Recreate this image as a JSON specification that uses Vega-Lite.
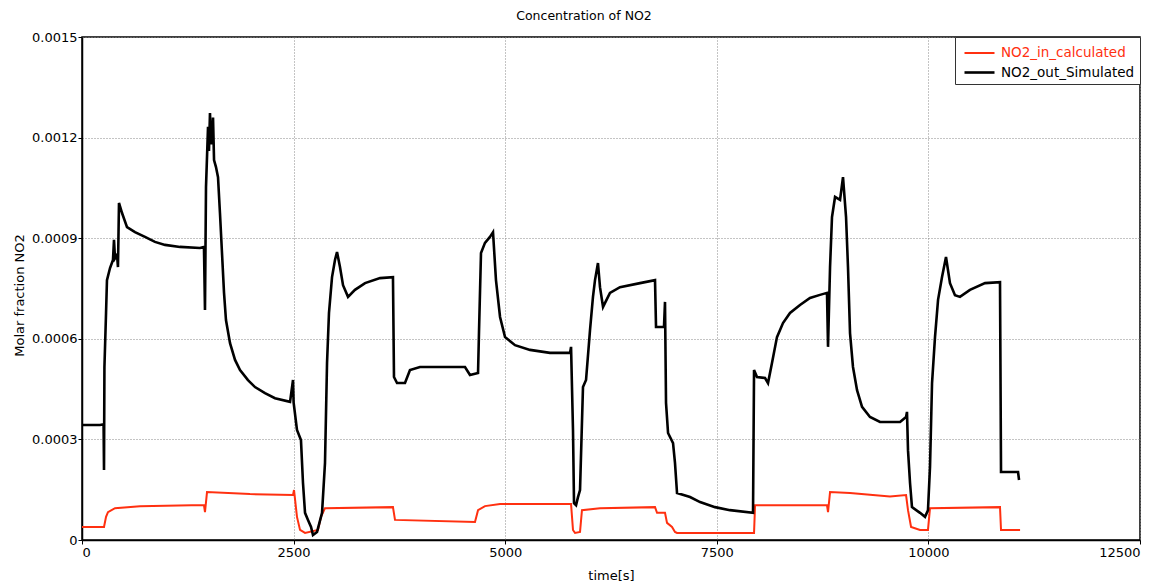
{
  "$schema": "https://vega.github.io/schema/vega-lite/v6.json",
  "width": 1058,
  "height": 503,
  "autosize": {"type": "none"},
  "padding": {"left": 82, "top": 37, "right": 28, "bottom": 42},
  "background": "white",
  "title": {
    "text": "Concentration of NO2",
    "font": "DejaVu Sans",
    "fontSize": 12.5,
    "fontWeight": "normal",
    "color": "#000",
    "anchor": "middle",
    "baseline": "middle",
    "offset": 3,
    "dx": -27
  },
  "config": {
    "font": "DejaVu Sans",
    "view": {"stroke": "#000", "strokeWidth": 1.5},
    "axis": {
      "labelFont": "DejaVu Sans",
      "labelFontSize": 13,
      "labelColor": "#000",
      "titleFont": "DejaVu Sans",
      "titleFontSize": 13,
      "titleFontWeight": "normal",
      "titleColor": "#000",
      "domainColor": "#000",
      "domainWidth": 1.5,
      "tickColor": "#000",
      "tickSize": 4,
      "tickWidth": 1,
      "gridColor": "#888",
      "gridDash": [1, 2],
      "gridWidth": 1
    }
  },
  "data": {
    "values": [
      {"t": 0, "v": 0.000039, "s": "NO2_in_calculated"},
      {"t": 260, "v": 0.000039, "s": "NO2_in_calculated"},
      {"t": 284, "v": 0.000069, "s": "NO2_in_calculated"},
      {"t": 307, "v": 0.000083, "s": "NO2_in_calculated"},
      {"t": 390, "v": 0.000095, "s": "NO2_in_calculated"},
      {"t": 685, "v": 0.000101, "s": "NO2_in_calculated"},
      {"t": 1441, "v": 0.000104, "s": "NO2_in_calculated"},
      {"t": 1453, "v": 0.000083, "s": "NO2_in_calculated"},
      {"t": 1477, "v": 0.000143, "s": "NO2_in_calculated"},
      {"t": 1985, "v": 0.000137, "s": "NO2_in_calculated"},
      {"t": 2493, "v": 0.000134, "s": "NO2_in_calculated"},
      {"t": 2505, "v": 0.000149, "s": "NO2_in_calculated"},
      {"t": 2540, "v": 0.000069, "s": "NO2_in_calculated"},
      {"t": 2576, "v": 0.000030, "s": "NO2_in_calculated"},
      {"t": 2635, "v": 0.000021, "s": "NO2_in_calculated"},
      {"t": 2788, "v": 0.000030, "s": "NO2_in_calculated"},
      {"t": 2824, "v": 0.000069, "s": "NO2_in_calculated"},
      {"t": 2871, "v": 0.000095, "s": "NO2_in_calculated"},
      {"t": 3674, "v": 0.000098, "s": "NO2_in_calculated"},
      {"t": 3698, "v": 0.000060, "s": "NO2_in_calculated"},
      {"t": 4643, "v": 0.000054, "s": "NO2_in_calculated"},
      {"t": 4679, "v": 0.000089, "s": "NO2_in_calculated"},
      {"t": 4761, "v": 0.000101, "s": "NO2_in_calculated"},
      {"t": 4939, "v": 0.000107, "s": "NO2_in_calculated"},
      {"t": 5778, "v": 0.000107, "s": "NO2_in_calculated"},
      {"t": 5801, "v": 0.000030, "s": "NO2_in_calculated"},
      {"t": 5825, "v": 0.000021, "s": "NO2_in_calculated"},
      {"t": 5884, "v": 0.000024, "s": "NO2_in_calculated"},
      {"t": 5907, "v": 0.000089, "s": "NO2_in_calculated"},
      {"t": 6120, "v": 0.000095, "s": "NO2_in_calculated"},
      {"t": 6770, "v": 0.000098, "s": "NO2_in_calculated"},
      {"t": 6794, "v": 0.000081, "s": "NO2_in_calculated"},
      {"t": 6888, "v": 0.000081, "s": "NO2_in_calculated"},
      {"t": 6912, "v": 0.000051, "s": "NO2_in_calculated"},
      {"t": 6971, "v": 0.000039, "s": "NO2_in_calculated"},
      {"t": 7006, "v": 0.000024, "s": "NO2_in_calculated"},
      {"t": 7030, "v": 0.000021, "s": "NO2_in_calculated"},
      {"t": 7940, "v": 0.000021, "s": "NO2_in_calculated"},
      {"t": 7952, "v": 0.000104, "s": "NO2_in_calculated"},
      {"t": 8802, "v": 0.000104, "s": "NO2_in_calculated"},
      {"t": 8814, "v": 0.000083, "s": "NO2_in_calculated"},
      {"t": 8838, "v": 0.000143, "s": "NO2_in_calculated"},
      {"t": 9074, "v": 0.000140, "s": "NO2_in_calculated"},
      {"t": 9546, "v": 0.000130, "s": "NO2_in_calculated"},
      {"t": 9736, "v": 0.000134, "s": "NO2_in_calculated"},
      {"t": 9759, "v": 0.000089, "s": "NO2_in_calculated"},
      {"t": 9795, "v": 0.000039, "s": "NO2_in_calculated"},
      {"t": 9901, "v": 0.000030, "s": "NO2_in_calculated"},
      {"t": 9995, "v": 0.000030, "s": "NO2_in_calculated"},
      {"t": 10019, "v": 0.000095, "s": "NO2_in_calculated"},
      {"t": 10846, "v": 0.000098, "s": "NO2_in_calculated"},
      {"t": 10858, "v": 0.000030, "s": "NO2_in_calculated"},
      {"t": 11083, "v": 0.000030, "s": "NO2_in_calculated"},

      {"t": 0, "v": 0.000343, "s": "NO2_out_Simulated"},
      {"t": 213, "v": 0.000343, "s": "NO2_out_Simulated"},
      {"t": 255, "v": 0.000345, "s": "NO2_out_Simulated"},
      {"t": 260, "v": 0.000209, "s": "NO2_out_Simulated"},
      {"t": 265, "v": 0.000516, "s": "NO2_out_Simulated"},
      {"t": 284, "v": 0.000677, "s": "NO2_out_Simulated"},
      {"t": 295, "v": 0.000775, "s": "NO2_out_Simulated"},
      {"t": 331, "v": 0.000811, "s": "NO2_out_Simulated"},
      {"t": 366, "v": 0.000835, "s": "NO2_out_Simulated"},
      {"t": 378, "v": 0.000895, "s": "NO2_out_Simulated"},
      {"t": 390, "v": 0.000840, "s": "NO2_out_Simulated"},
      {"t": 414, "v": 0.000850, "s": "NO2_out_Simulated"},
      {"t": 425, "v": 0.000814, "s": "NO2_out_Simulated"},
      {"t": 437, "v": 0.001005, "s": "NO2_out_Simulated"},
      {"t": 473, "v": 0.000975, "s": "NO2_out_Simulated"},
      {"t": 532, "v": 0.000933, "s": "NO2_out_Simulated"},
      {"t": 626, "v": 0.000918, "s": "NO2_out_Simulated"},
      {"t": 744, "v": 0.000904, "s": "NO2_out_Simulated"},
      {"t": 862, "v": 0.000889, "s": "NO2_out_Simulated"},
      {"t": 981, "v": 0.000880, "s": "NO2_out_Simulated"},
      {"t": 1158, "v": 0.000874, "s": "NO2_out_Simulated"},
      {"t": 1394, "v": 0.000871, "s": "NO2_out_Simulated"},
      {"t": 1441, "v": 0.000874, "s": "NO2_out_Simulated"},
      {"t": 1453, "v": 0.000686, "s": "NO2_out_Simulated"},
      {"t": 1465, "v": 0.001053, "s": "NO2_out_Simulated"},
      {"t": 1489, "v": 0.001232, "s": "NO2_out_Simulated"},
      {"t": 1500, "v": 0.001160, "s": "NO2_out_Simulated"},
      {"t": 1512, "v": 0.001273, "s": "NO2_out_Simulated"},
      {"t": 1525, "v": 0.001180, "s": "NO2_out_Simulated"},
      {"t": 1536, "v": 0.001193, "s": "NO2_out_Simulated"},
      {"t": 1548, "v": 0.001260, "s": "NO2_out_Simulated"},
      {"t": 1560, "v": 0.001133, "s": "NO2_out_Simulated"},
      {"t": 1583, "v": 0.001112, "s": "NO2_out_Simulated"},
      {"t": 1607, "v": 0.001082, "s": "NO2_out_Simulated"},
      {"t": 1630, "v": 0.000975, "s": "NO2_out_Simulated"},
      {"t": 1654, "v": 0.000856, "s": "NO2_out_Simulated"},
      {"t": 1678, "v": 0.000737, "s": "NO2_out_Simulated"},
      {"t": 1701, "v": 0.000656, "s": "NO2_out_Simulated"},
      {"t": 1749, "v": 0.000587, "s": "NO2_out_Simulated"},
      {"t": 1808, "v": 0.000537, "s": "NO2_out_Simulated"},
      {"t": 1867, "v": 0.000507, "s": "NO2_out_Simulated"},
      {"t": 1961, "v": 0.000477, "s": "NO2_out_Simulated"},
      {"t": 2044, "v": 0.000456, "s": "NO2_out_Simulated"},
      {"t": 2162, "v": 0.000438, "s": "NO2_out_Simulated"},
      {"t": 2280, "v": 0.000423, "s": "NO2_out_Simulated"},
      {"t": 2458, "v": 0.000412, "s": "NO2_out_Simulated"},
      {"t": 2493, "v": 0.000477, "s": "NO2_out_Simulated"},
      {"t": 2500, "v": 0.000410, "s": "NO2_out_Simulated"},
      {"t": 2540, "v": 0.000328, "s": "NO2_out_Simulated"},
      {"t": 2587, "v": 0.000298, "s": "NO2_out_Simulated"},
      {"t": 2611, "v": 0.000170, "s": "NO2_out_Simulated"},
      {"t": 2635, "v": 0.000081, "s": "NO2_out_Simulated"},
      {"t": 2670, "v": 0.000060, "s": "NO2_out_Simulated"},
      {"t": 2706, "v": 0.000039, "s": "NO2_out_Simulated"},
      {"t": 2729, "v": 0.000015, "s": "NO2_out_Simulated"},
      {"t": 2777, "v": 0.000024, "s": "NO2_out_Simulated"},
      {"t": 2836, "v": 0.000081, "s": "NO2_out_Simulated"},
      {"t": 2871, "v": 0.000230, "s": "NO2_out_Simulated"},
      {"t": 2895, "v": 0.000528, "s": "NO2_out_Simulated"},
      {"t": 2918, "v": 0.000677, "s": "NO2_out_Simulated"},
      {"t": 2954, "v": 0.000784, "s": "NO2_out_Simulated"},
      {"t": 2989, "v": 0.000835, "s": "NO2_out_Simulated"},
      {"t": 3013, "v": 0.000859, "s": "NO2_out_Simulated"},
      {"t": 3048, "v": 0.000814, "s": "NO2_out_Simulated"},
      {"t": 3084, "v": 0.000760, "s": "NO2_out_Simulated"},
      {"t": 3143, "v": 0.000725, "s": "NO2_out_Simulated"},
      {"t": 3225, "v": 0.000746, "s": "NO2_out_Simulated"},
      {"t": 3344, "v": 0.000766, "s": "NO2_out_Simulated"},
      {"t": 3521, "v": 0.000781, "s": "NO2_out_Simulated"},
      {"t": 3674, "v": 0.000784, "s": "NO2_out_Simulated"},
      {"t": 3686, "v": 0.000486, "s": "NO2_out_Simulated"},
      {"t": 3722, "v": 0.000468, "s": "NO2_out_Simulated"},
      {"t": 3816, "v": 0.000468, "s": "NO2_out_Simulated"},
      {"t": 3875, "v": 0.000507, "s": "NO2_out_Simulated"},
      {"t": 3993, "v": 0.000516, "s": "NO2_out_Simulated"},
      {"t": 4230, "v": 0.000516, "s": "NO2_out_Simulated"},
      {"t": 4525, "v": 0.000516, "s": "NO2_out_Simulated"},
      {"t": 4584, "v": 0.000492, "s": "NO2_out_Simulated"},
      {"t": 4679, "v": 0.000498, "s": "NO2_out_Simulated"},
      {"t": 4691, "v": 0.000626, "s": "NO2_out_Simulated"},
      {"t": 4714, "v": 0.000856, "s": "NO2_out_Simulated"},
      {"t": 4761, "v": 0.000886, "s": "NO2_out_Simulated"},
      {"t": 4820, "v": 0.000904, "s": "NO2_out_Simulated"},
      {"t": 4856, "v": 0.000918, "s": "NO2_out_Simulated"},
      {"t": 4891, "v": 0.000775, "s": "NO2_out_Simulated"},
      {"t": 4939, "v": 0.000665, "s": "NO2_out_Simulated"},
      {"t": 4998, "v": 0.000605, "s": "NO2_out_Simulated"},
      {"t": 5116, "v": 0.000581, "s": "NO2_out_Simulated"},
      {"t": 5293, "v": 0.000567, "s": "NO2_out_Simulated"},
      {"t": 5529, "v": 0.000558, "s": "NO2_out_Simulated"},
      {"t": 5766, "v": 0.000558, "s": "NO2_out_Simulated"},
      {"t": 5778, "v": 0.000576, "s": "NO2_out_Simulated"},
      {"t": 5801, "v": 0.000328, "s": "NO2_out_Simulated"},
      {"t": 5813, "v": 0.000110, "s": "NO2_out_Simulated"},
      {"t": 5837, "v": 0.000104, "s": "NO2_out_Simulated"},
      {"t": 5860, "v": 0.000128, "s": "NO2_out_Simulated"},
      {"t": 5884, "v": 0.000149, "s": "NO2_out_Simulated"},
      {"t": 5919, "v": 0.000456, "s": "NO2_out_Simulated"},
      {"t": 5955, "v": 0.000477, "s": "NO2_out_Simulated"},
      {"t": 6002, "v": 0.000626, "s": "NO2_out_Simulated"},
      {"t": 6037, "v": 0.000725, "s": "NO2_out_Simulated"},
      {"t": 6061, "v": 0.000775, "s": "NO2_out_Simulated"},
      {"t": 6096, "v": 0.000826, "s": "NO2_out_Simulated"},
      {"t": 6120, "v": 0.000754, "s": "NO2_out_Simulated"},
      {"t": 6156, "v": 0.000695, "s": "NO2_out_Simulated"},
      {"t": 6238, "v": 0.000737, "s": "NO2_out_Simulated"},
      {"t": 6356, "v": 0.000754, "s": "NO2_out_Simulated"},
      {"t": 6593, "v": 0.000766, "s": "NO2_out_Simulated"},
      {"t": 6770, "v": 0.000775, "s": "NO2_out_Simulated"},
      {"t": 6782, "v": 0.000635, "s": "NO2_out_Simulated"},
      {"t": 6876, "v": 0.000635, "s": "NO2_out_Simulated"},
      {"t": 6888, "v": 0.000710, "s": "NO2_out_Simulated"},
      {"t": 6900, "v": 0.000409, "s": "NO2_out_Simulated"},
      {"t": 6924, "v": 0.000319, "s": "NO2_out_Simulated"},
      {"t": 6983, "v": 0.000289, "s": "NO2_out_Simulated"},
      {"t": 7006, "v": 0.000230, "s": "NO2_out_Simulated"},
      {"t": 7030, "v": 0.000140, "s": "NO2_out_Simulated"},
      {"t": 7184, "v": 0.000128, "s": "NO2_out_Simulated"},
      {"t": 7302, "v": 0.000113, "s": "NO2_out_Simulated"},
      {"t": 7479, "v": 0.000098, "s": "NO2_out_Simulated"},
      {"t": 7656, "v": 0.000089, "s": "NO2_out_Simulated"},
      {"t": 7928, "v": 0.000081, "s": "NO2_out_Simulated"},
      {"t": 7940, "v": 0.000507, "s": "NO2_out_Simulated"},
      {"t": 7975, "v": 0.000486, "s": "NO2_out_Simulated"},
      {"t": 8070, "v": 0.000483, "s": "NO2_out_Simulated"},
      {"t": 8105, "v": 0.000468, "s": "NO2_out_Simulated"},
      {"t": 8152, "v": 0.000528, "s": "NO2_out_Simulated"},
      {"t": 8211, "v": 0.000605, "s": "NO2_out_Simulated"},
      {"t": 8282, "v": 0.000647, "s": "NO2_out_Simulated"},
      {"t": 8365, "v": 0.000677, "s": "NO2_out_Simulated"},
      {"t": 8483, "v": 0.000701, "s": "NO2_out_Simulated"},
      {"t": 8601, "v": 0.000722, "s": "NO2_out_Simulated"},
      {"t": 8719, "v": 0.000731, "s": "NO2_out_Simulated"},
      {"t": 8802, "v": 0.000737, "s": "NO2_out_Simulated"},
      {"t": 8814, "v": 0.000576, "s": "NO2_out_Simulated"},
      {"t": 8838, "v": 0.000814, "s": "NO2_out_Simulated"},
      {"t": 8861, "v": 0.000963, "s": "NO2_out_Simulated"},
      {"t": 8897, "v": 0.001023, "s": "NO2_out_Simulated"},
      {"t": 8956, "v": 0.001014, "s": "NO2_out_Simulated"},
      {"t": 8991, "v": 0.001082, "s": "NO2_out_Simulated"},
      {"t": 9027, "v": 0.000963, "s": "NO2_out_Simulated"},
      {"t": 9050, "v": 0.000814, "s": "NO2_out_Simulated"},
      {"t": 9074, "v": 0.000617, "s": "NO2_out_Simulated"},
      {"t": 9109, "v": 0.000516, "s": "NO2_out_Simulated"},
      {"t": 9157, "v": 0.000447, "s": "NO2_out_Simulated"},
      {"t": 9216, "v": 0.000397, "s": "NO2_out_Simulated"},
      {"t": 9310, "v": 0.000367, "s": "NO2_out_Simulated"},
      {"t": 9428, "v": 0.000352, "s": "NO2_out_Simulated"},
      {"t": 9665, "v": 0.000352, "s": "NO2_out_Simulated"},
      {"t": 9736, "v": 0.000367, "s": "NO2_out_Simulated"},
      {"t": 9747, "v": 0.000382, "s": "NO2_out_Simulated"},
      {"t": 9759, "v": 0.000268, "s": "NO2_out_Simulated"},
      {"t": 9783, "v": 0.000170, "s": "NO2_out_Simulated"},
      {"t": 9806, "v": 0.000098, "s": "NO2_out_Simulated"},
      {"t": 9901, "v": 0.000081, "s": "NO2_out_Simulated"},
      {"t": 9960, "v": 0.000069, "s": "NO2_out_Simulated"},
      {"t": 9995, "v": 0.000089, "s": "NO2_out_Simulated"},
      {"t": 10019, "v": 0.000218, "s": "NO2_out_Simulated"},
      {"t": 10043, "v": 0.000468, "s": "NO2_out_Simulated"},
      {"t": 10078, "v": 0.000605, "s": "NO2_out_Simulated"},
      {"t": 10114, "v": 0.000716, "s": "NO2_out_Simulated"},
      {"t": 10161, "v": 0.000784, "s": "NO2_out_Simulated"},
      {"t": 10208, "v": 0.000844, "s": "NO2_out_Simulated"},
      {"t": 10255, "v": 0.000766, "s": "NO2_out_Simulated"},
      {"t": 10314, "v": 0.000730, "s": "NO2_out_Simulated"},
      {"t": 10373, "v": 0.000725, "s": "NO2_out_Simulated"},
      {"t": 10491, "v": 0.000746, "s": "NO2_out_Simulated"},
      {"t": 10669, "v": 0.000766, "s": "NO2_out_Simulated"},
      {"t": 10846, "v": 0.000769, "s": "NO2_out_Simulated"},
      {"t": 10858, "v": 0.000203, "s": "NO2_out_Simulated"},
      {"t": 11059, "v": 0.000203, "s": "NO2_out_Simulated"},
      {"t": 11071, "v": 0.000179, "s": "NO2_out_Simulated"}
    ]
  },
  "mark": {"type": "line", "interpolate": "linear"},
  "encoding": {
    "x": {
      "field": "t",
      "type": "quantitative",
      "scale": {"domain": [0, 12500], "nice": false, "zero": false},
      "axis": {
        "title": "time[s]",
        "values": [0, 2500, 5000, 7500, 10000, 12500],
        "format": "d",
        "labelPadding": 2,
        "titleX": 529,
        "titleY": 35,
        "titleBaseline": "middle",
        "titleAlign": "center"
      }
    },
    "y": {
      "field": "v",
      "type": "quantitative",
      "scale": {"domain": [0, 0.0015], "nice": false},
      "axis": {
        "title": "Molar fraction NO2",
        "values": [0, 0.0003, 0.0006, 0.0009, 0.0012, 0.0015],
        "labelExpr": "datum.value == 0 ? '0' : format(datum.value, '.4f')",
        "labelPadding": 1,
        "titleAngle": 270,
        "titleX": -63,
        "titleY": 258,
        "titleBaseline": "middle",
        "titleAlign": "center"
      }
    },
    "strokeWidth": {
      "field": "s",
      "type": "nominal",
      "scale": {"domain": ["NO2_in_calculated", "NO2_out_Simulated"], "range": [2, 2.6]},
      "legend": null
    },
    "color": {
      "field": "s",
      "type": "nominal",
      "scale": {
        "domain": ["NO2_in_calculated", "NO2_out_Simulated"],
        "range": ["#ff3010", "#000000"]
      },
      "legend": {
        "title": null,
        "orient": "top-right",
        "offset": 0,
        "symbolType": "M-1.5,0L1.5,0",
        "symbolSize": 400,
        "symbolStrokeWidth": 1.5,
        "symbolOffset": 8,
        "labelFont": "DejaVu Sans",
        "labelFontSize": 13.5,
        "labelOffset": 10,
        "padding": 5,
        "rowPadding": 1,
        "strokeColor": "#333",
        "fillColor": "white",
        "encode": {
          "symbols": {
            "update": {"strokeWidth": {"value": 1.5}}
          },
          "labels": {
            "update": {
              "fill": {"signal": "datum.value == 'NO2_in_calculated' ? '#ff3010' : '#000000'"}
            }
          }
        }
      }
    }
  }
}
